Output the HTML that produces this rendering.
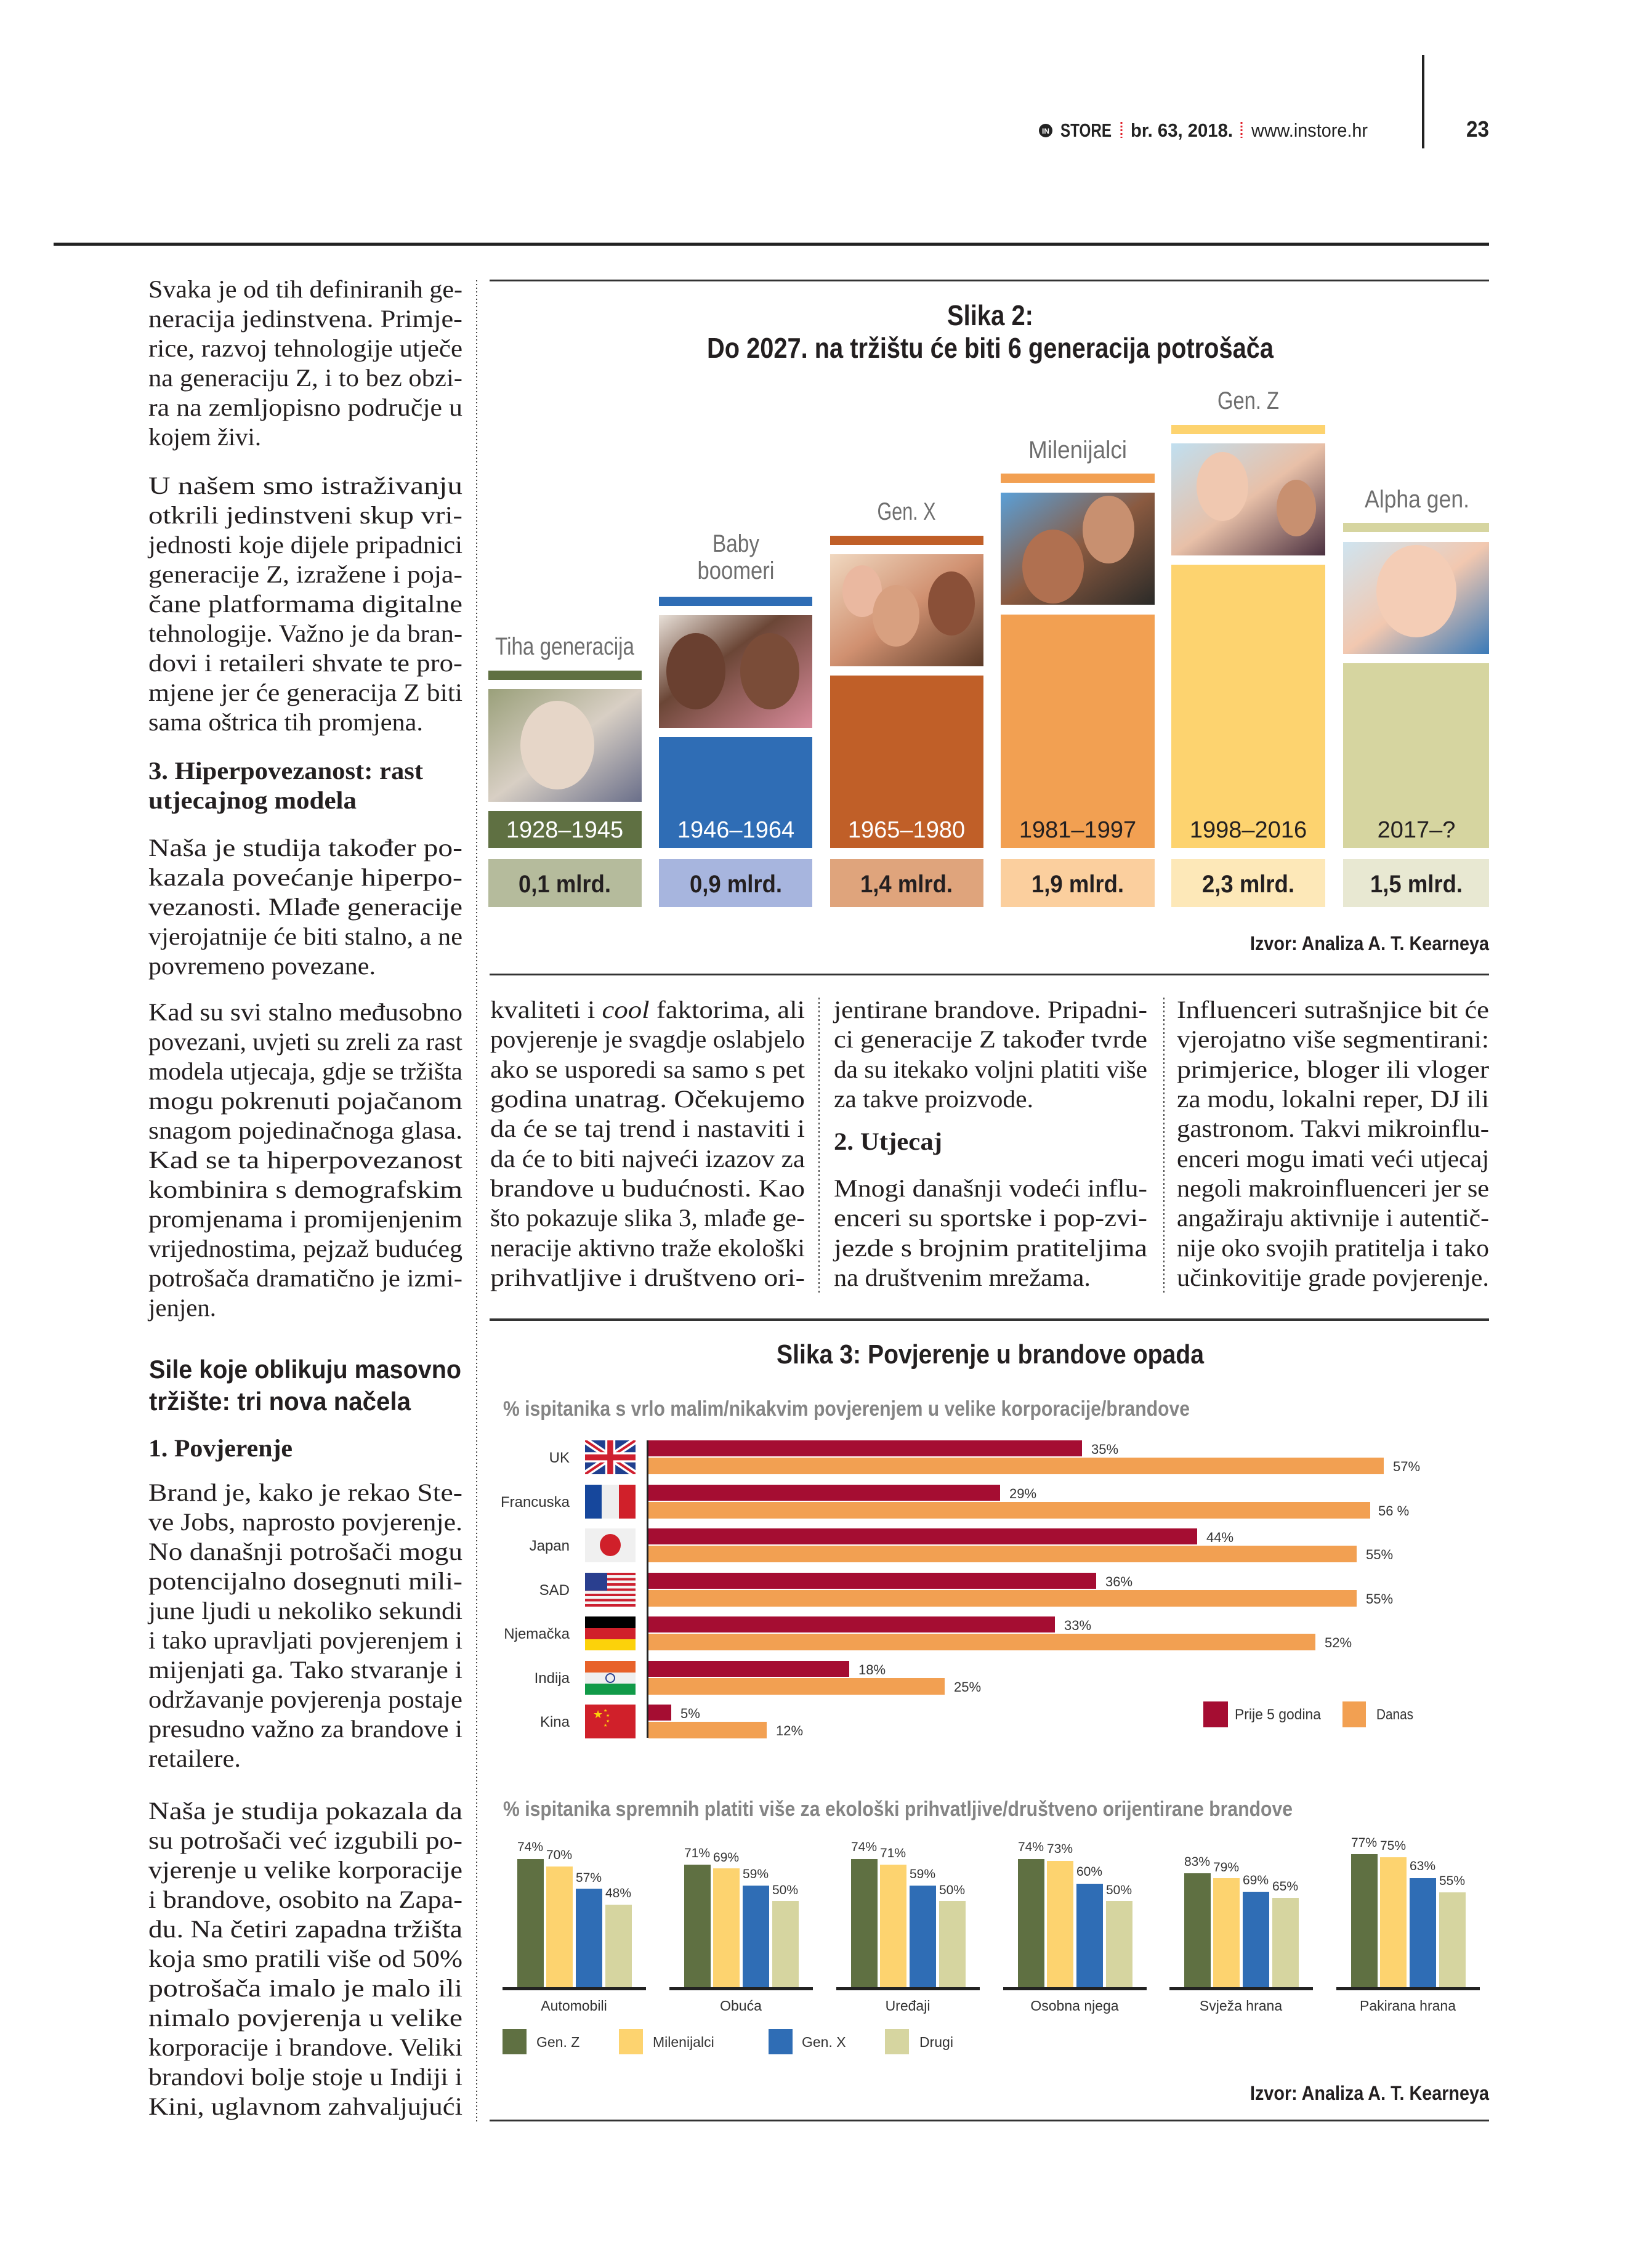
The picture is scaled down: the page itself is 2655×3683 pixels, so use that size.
<!DOCTYPE html>
<html><head><meta charset="utf-8"><style>
html,body{margin:0;padding:0;background:#fff}
svg{display:block}
.b{font-family:"Liberation Serif",serif;font-size:40px;fill:#231f20}
.s{font-family:"Liberation Sans",sans-serif}
</style></head><body>
<svg width="2655" height="3683" viewBox="0 0 2655 3683" xmlns="http://www.w3.org/2000/svg">
<defs>
<linearGradient id="p1" x1="0" y1="0" x2="1" y2="1"><stop offset="0" stop-color="#9aa07a"/><stop offset="0.5" stop-color="#d8cfc4"/><stop offset="1" stop-color="#6a6f8a"/></linearGradient>
<linearGradient id="p2" x1="0" y1="0" x2="1" y2="1"><stop offset="0" stop-color="#e8e0d8"/><stop offset="0.4" stop-color="#6b4636"/><stop offset="1" stop-color="#d88a9a"/></linearGradient>
<linearGradient id="p3" x1="0" y1="0" x2="1" y2="1"><stop offset="0" stop-color="#f0d8c0"/><stop offset="0.5" stop-color="#d09070"/><stop offset="1" stop-color="#5a3a28"/></linearGradient>
<linearGradient id="p4" x1="0" y1="0" x2="1" y2="1"><stop offset="0" stop-color="#5aa0d8"/><stop offset="0.5" stop-color="#8a5a40"/><stop offset="1" stop-color="#2a2a28"/></linearGradient>
<linearGradient id="p5" x1="0" y1="0" x2="1" y2="1"><stop offset="0" stop-color="#c0dff0"/><stop offset="0.5" stop-color="#e8c0a8"/><stop offset="1" stop-color="#4a3040"/></linearGradient>
<linearGradient id="p6" x1="0" y1="0" x2="1" y2="1"><stop offset="0" stop-color="#cfe4f0"/><stop offset="0.5" stop-color="#f2c8b0"/><stop offset="1" stop-color="#3a7ab8"/></linearGradient>
</defs>

<!-- header -->
<circle cx="1698" cy="212" r="11" fill="#222"/>
<text x="1698" y="217" font-family="Liberation Sans" font-size="12" font-weight="bold" fill="#fff" text-anchor="middle">IN</text>
<text x="1722" y="222" class="s" font-size="31" font-weight="bold" fill="#222" textLength="83" lengthAdjust="spacingAndGlyphs">STORE</text>
<line x1="1821" y1="198" x2="1821" y2="224" stroke="#e0202a" stroke-width="3" stroke-dasharray="3,3"/>
<text x="1836" y="222" class="s" font-size="31" font-weight="bold" fill="#222" textLength="166" lengthAdjust="spacingAndGlyphs">br. 63, 2018.</text>
<line x1="2016" y1="198" x2="2016" y2="224" stroke="#e0202a" stroke-width="3" stroke-dasharray="3,3"/>
<text x="2032" y="222" class="s" font-size="31" fill="#222" textLength="189" lengthAdjust="spacingAndGlyphs">www.instore.hr</text>
<rect x="2309" y="89" width="4" height="152" fill="#222"/>
<text x="2381" y="222" class="s" font-size="36" font-weight="bold" fill="#222" textLength="37" lengthAdjust="spacingAndGlyphs">23</text>
<rect x="87" y="394" width="2331" height="5" fill="#222"/>

<!-- left dotted column line -->
<line x1="774" y1="455" x2="774" y2="3445" stroke="#444" stroke-width="2" stroke-dasharray="2,4"/>

<!-- LEFT COLUMN TEXT -->
<g class="b">
<text x="241" y="483" textLength="510" lengthAdjust="spacingAndGlyphs">Svaka je od tih definiranih ge-</text>
<text x="241" y="531" textLength="510" lengthAdjust="spacingAndGlyphs">neracija jedinstvena. Primje-</text>
<text x="241" y="579" textLength="510" lengthAdjust="spacingAndGlyphs">rice, razvoj tehnologije utječe</text>
<text x="241" y="627" textLength="510" lengthAdjust="spacingAndGlyphs">na generaciju Z, i to bez obzi-</text>
<text x="241" y="675" textLength="510" lengthAdjust="spacingAndGlyphs">ra na zemljopisno područje u</text>
<text x="241" y="723" textLength="183" lengthAdjust="spacingAndGlyphs">kojem živi.</text>

<text x="241" y="802" textLength="510" lengthAdjust="spacingAndGlyphs">U našem smo istraživanju</text>
<text x="241" y="850" textLength="510" lengthAdjust="spacingAndGlyphs">otkrili jedinstveni skup vri-</text>
<text x="241" y="898" textLength="510" lengthAdjust="spacingAndGlyphs">jednosti koje dijele pripadnici</text>
<text x="241" y="946" textLength="510" lengthAdjust="spacingAndGlyphs">generacije Z, izražene i poja-</text>
<text x="241" y="994" textLength="510" lengthAdjust="spacingAndGlyphs">čane platformama digitalne</text>
<text x="241" y="1042" textLength="510" lengthAdjust="spacingAndGlyphs">tehnologije. Važno je da bran-</text>
<text x="241" y="1090" textLength="510" lengthAdjust="spacingAndGlyphs">dovi i retaileri shvate te pro-</text>
<text x="241" y="1138" textLength="510" lengthAdjust="spacingAndGlyphs">mjene jer će generacija Z biti</text>
<text x="241" y="1186" textLength="446" lengthAdjust="spacingAndGlyphs">sama oštrica tih promjena.</text>

<text x="241" y="1265" font-weight="bold" textLength="446" lengthAdjust="spacingAndGlyphs">3. Hiperpovezanost: rast</text>
<text x="241" y="1313" font-weight="bold" textLength="338" lengthAdjust="spacingAndGlyphs">utjecajnog modela</text>

<text x="241" y="1390" textLength="510" lengthAdjust="spacingAndGlyphs">Naša je studija također po-</text>
<text x="241" y="1438" textLength="510" lengthAdjust="spacingAndGlyphs">kazala povećanje hiperpo-</text>
<text x="241" y="1486" textLength="510" lengthAdjust="spacingAndGlyphs">vezanosti. Mlađe generacije</text>
<text x="241" y="1534" textLength="510" lengthAdjust="spacingAndGlyphs">vjerojatnije će biti stalno, a ne</text>
<text x="241" y="1582" textLength="369" lengthAdjust="spacingAndGlyphs">povremeno povezane.</text>

<text x="241" y="1657" textLength="510" lengthAdjust="spacingAndGlyphs">Kad su svi stalno međusobno</text>
<text x="241" y="1705" textLength="510" lengthAdjust="spacingAndGlyphs">povezani, uvjeti su zreli za rast</text>
<text x="241" y="1753" textLength="510" lengthAdjust="spacingAndGlyphs">modela utjecaja, gdje se tržišta</text>
<text x="241" y="1801" textLength="510" lengthAdjust="spacingAndGlyphs">mogu pokrenuti pojačanom</text>
<text x="241" y="1849" textLength="510" lengthAdjust="spacingAndGlyphs">snagom pojedinačnoga glasa.</text>
<text x="241" y="1897" textLength="510" lengthAdjust="spacingAndGlyphs">Kad se ta hiperpovezanost</text>
<text x="241" y="1945" textLength="510" lengthAdjust="spacingAndGlyphs">kombinira s demografskim</text>
<text x="241" y="1993" textLength="510" lengthAdjust="spacingAndGlyphs">promjenama i promijenjenim</text>
<text x="241" y="2041" textLength="510" lengthAdjust="spacingAndGlyphs">vrijednostima, pejzaž budućeg</text>
<text x="241" y="2089" textLength="510" lengthAdjust="spacingAndGlyphs">potrošača dramatično je izmi-</text>
<text x="241" y="2137" textLength="110" lengthAdjust="spacingAndGlyphs">jenjen.</text>

<text x="241" y="2365" font-weight="bold" textLength="234" lengthAdjust="spacingAndGlyphs">1. Povjerenje</text>

<text x="241" y="2437" textLength="510" lengthAdjust="spacingAndGlyphs">Brand je, kako je rekao Ste-</text>
<text x="241" y="2485" textLength="510" lengthAdjust="spacingAndGlyphs">ve Jobs, naprosto povjerenje.</text>
<text x="241" y="2533" textLength="510" lengthAdjust="spacingAndGlyphs">No današnji potrošači mogu</text>
<text x="241" y="2581" textLength="510" lengthAdjust="spacingAndGlyphs">potencijalno dosegnuti mili-</text>
<text x="241" y="2629" textLength="510" lengthAdjust="spacingAndGlyphs">june ljudi u nekoliko sekundi</text>
<text x="241" y="2677" textLength="510" lengthAdjust="spacingAndGlyphs">i tako upravljati povjerenjem i</text>
<text x="241" y="2725" textLength="510" lengthAdjust="spacingAndGlyphs">mijenjati ga. Tako stvaranje i</text>
<text x="241" y="2773" textLength="510" lengthAdjust="spacingAndGlyphs">održavanje povjerenja postaje</text>
<text x="241" y="2821" textLength="510" lengthAdjust="spacingAndGlyphs">presudno važno za brandove i</text>
<text x="241" y="2869" textLength="150" lengthAdjust="spacingAndGlyphs">retailere.</text>

<text x="241" y="2954" textLength="510" lengthAdjust="spacingAndGlyphs">Naša je studija pokazala da</text>
<text x="241" y="3002" textLength="510" lengthAdjust="spacingAndGlyphs">su potrošači već izgubili po-</text>
<text x="241" y="3050" textLength="510" lengthAdjust="spacingAndGlyphs">vjerenje u velike korporacije</text>
<text x="241" y="3098" textLength="510" lengthAdjust="spacingAndGlyphs">i brandove, osobito na Zapa-</text>
<text x="241" y="3146" textLength="510" lengthAdjust="spacingAndGlyphs">du. Na četiri zapadna tržišta</text>
<text x="241" y="3194" textLength="510" lengthAdjust="spacingAndGlyphs">koja smo pratili više od 50%</text>
<text x="241" y="3242" textLength="510" lengthAdjust="spacingAndGlyphs">potrošača imalo je malo ili</text>
<text x="241" y="3290" textLength="510" lengthAdjust="spacingAndGlyphs">nimalo povjerenja u velike</text>
<text x="241" y="3338" textLength="510" lengthAdjust="spacingAndGlyphs">korporacije i brandove. Veliki</text>
<text x="241" y="3386" textLength="510" lengthAdjust="spacingAndGlyphs">brandovi bolje stoje u Indiji i</text>
<text x="241" y="3434" textLength="510" lengthAdjust="spacingAndGlyphs">Kini, uglavnom zahvaljujući</text>
</g>
<g class="s" font-size="42" font-weight="bold" fill="#231f20">
<text x="242" y="2238" textLength="507" lengthAdjust="spacingAndGlyphs">Sile koje oblikuju masovno</text>
<text x="242" y="2290" textLength="425" lengthAdjust="spacingAndGlyphs">tržište: tri nova načela</text>
</g>

<!-- FIGURE 2 -->
<rect x="795" y="454" width="1623" height="3" fill="#333"/>
<g class="s" font-weight="bold" fill="#231f20" text-anchor="middle">
<text x="1608" y="528" font-size="46" textLength="140" lengthAdjust="spacingAndGlyphs">Slika 2:</text>
<text x="1608" y="581" font-size="46" textLength="920" lengthAdjust="spacingAndGlyphs">Do 2027. na tržištu će biti 6 generacija potrošača</text>
</g>

<!-- col 1 Tiha -->
<text x="917" y="1063" class="s" font-size="40" fill="#6e6e6e" text-anchor="middle" textLength="226" lengthAdjust="spacingAndGlyphs">Tiha generacija</text>
<rect x="793" y="1089" width="249" height="15" fill="#5f7042"/>
<rect x="793" y="1119" width="249" height="183" fill="url(#p1)"/>
<ellipse cx="905" cy="1210" rx="60" ry="72" fill="#e6d6c8"/>
<rect x="793" y="1317" width="249" height="60" fill="#5f7042"/>
<rect x="793" y="1395" width="249" height="78" fill="#b5bb9c"/>
<!-- col 2 Baby -->
<text x="1195" y="896" class="s" font-size="40" fill="#6e6e6e" text-anchor="middle" textLength="76" lengthAdjust="spacingAndGlyphs">Baby</text>
<text x="1195" y="940" class="s" font-size="40" fill="#6e6e6e" text-anchor="middle" textLength="125" lengthAdjust="spacingAndGlyphs">boomeri</text>
<rect x="1070" y="969" width="249" height="15" fill="#2f6db5"/>
<rect x="1070" y="999" width="249" height="183" fill="url(#p2)"/>
<ellipse cx="1130" cy="1090" rx="48" ry="62" fill="#6a4030"/>
<ellipse cx="1250" cy="1090" rx="48" ry="62" fill="#7a4c38"/>
<rect x="1070" y="1197" width="249" height="180" fill="#2f6db5"/>
<rect x="1070" y="1395" width="249" height="78" fill="#a7b5de"/>
<!-- col 3 Gen X -->
<text x="1472" y="844" class="s" font-size="40" fill="#6e6e6e" text-anchor="middle" textLength="95" lengthAdjust="spacingAndGlyphs">Gen. X</text>
<rect x="1348" y="870" width="249" height="15" fill="#c05f28"/>
<rect x="1348" y="900" width="249" height="182" fill="url(#p3)"/>
<ellipse cx="1400" cy="960" rx="32" ry="42" fill="#eab8a0"/>
<ellipse cx="1455" cy="1000" rx="38" ry="50" fill="#d8a080"/>
<ellipse cx="1545" cy="980" rx="38" ry="52" fill="#8a5038"/>
<rect x="1348" y="1097" width="249" height="280" fill="#c05f28"/>
<rect x="1348" y="1395" width="249" height="78" fill="#dfa47c"/>
<!-- col 4 Mil -->
<text x="1750" y="744" class="s" font-size="40" fill="#6e6e6e" text-anchor="middle" textLength="160" lengthAdjust="spacingAndGlyphs">Milenijalci</text>
<rect x="1625" y="769" width="250" height="15" fill="#f2a052"/>
<rect x="1625" y="800" width="250" height="182" fill="url(#p4)"/>
<ellipse cx="1710" cy="920" rx="50" ry="60" fill="#b07050"/>
<ellipse cx="1800" cy="860" rx="42" ry="55" fill="#c89070"/>
<rect x="1625" y="998" width="250" height="379" fill="#f2a052"/>
<rect x="1625" y="1395" width="250" height="78" fill="#fbcf9e"/>
<!-- col 5 Gen Z -->
<text x="2027" y="664" class="s" font-size="40" fill="#6e6e6e" text-anchor="middle" textLength="100" lengthAdjust="spacingAndGlyphs">Gen. Z</text>
<rect x="1902" y="690" width="250" height="15" fill="#fdd36f"/>
<rect x="1902" y="720" width="250" height="182" fill="url(#p5)"/>
<ellipse cx="1985" cy="790" rx="42" ry="56" fill="#f0c8b0"/>
<ellipse cx="2105" cy="825" rx="32" ry="46" fill="#c89070"/>
<rect x="1902" y="917" width="250" height="460" fill="#fdd36f"/>
<rect x="1902" y="1395" width="250" height="78" fill="#fde8b8"/>
<!-- col 6 Alpha -->
<text x="2301" y="824" class="s" font-size="40" fill="#6e6e6e" text-anchor="middle" textLength="170" lengthAdjust="spacingAndGlyphs">Alpha gen.</text>
<rect x="2181" y="849" width="237" height="15" fill="#d6d5a0"/>
<rect x="2181" y="880" width="237" height="182" fill="url(#p6)"/>
<ellipse cx="2300" cy="960" rx="65" ry="75" fill="#f4cdb6"/>
<rect x="2181" y="1077" width="237" height="300" fill="#d6d5a0"/>
<rect x="2181" y="1395" width="237" height="78" fill="#e8e8d2"/>

<g class="s" font-size="38" text-anchor="middle">
<text x="917" y="1360" fill="#fff">1928–1945</text>
<text x="1195" y="1360" fill="#fff">1946–1964</text>
<text x="1472" y="1360" fill="#fff">1965–1980</text>
<text x="1750" y="1360" fill="#231f20">1981–1997</text>
<text x="2027" y="1360" fill="#231f20">1998–2016</text>
<text x="2300" y="1360" fill="#231f20">2017–?</text>
</g>
<g class="s" font-size="40" font-weight="bold" text-anchor="middle" fill="#231f20">
<text x="917" y="1449" textLength="150" lengthAdjust="spacingAndGlyphs">0,1 mlrd.</text>
<text x="1195" y="1449" textLength="150" lengthAdjust="spacingAndGlyphs">0,9 mlrd.</text>
<text x="1472" y="1449" textLength="150" lengthAdjust="spacingAndGlyphs">1,4 mlrd.</text>
<text x="1750" y="1449" textLength="150" lengthAdjust="spacingAndGlyphs">1,9 mlrd.</text>
<text x="2027" y="1449" textLength="150" lengthAdjust="spacingAndGlyphs">2,3 mlrd.</text>
<text x="2300" y="1449" textLength="150" lengthAdjust="spacingAndGlyphs">1,5 mlrd.</text>
</g>
<text x="2418" y="1543" class="s" font-size="32" font-weight="bold" fill="#231f20" text-anchor="end" textLength="388" lengthAdjust="spacingAndGlyphs">Izvor: Analiza A. T. Kearneya</text>
<rect x="795" y="1581" width="1623" height="3" fill="#333"/>

<!-- middle text columns -->
<line x1="1330" y1="1620" x2="1330" y2="2100" stroke="#444" stroke-width="2" stroke-dasharray="3,4"/>
<line x1="1890" y1="1620" x2="1890" y2="2100" stroke="#444" stroke-width="2" stroke-dasharray="3,4"/>
<g class="b">
<text x="796" y="1653" textLength="511" lengthAdjust="spacingAndGlyphs">kvaliteti i <tspan font-style="italic">cool</tspan> faktorima, ali</text>
<text x="796" y="1701" textLength="511" lengthAdjust="spacingAndGlyphs">povjerenje je svagdje oslabjelo</text>
<text x="796" y="1750" textLength="511" lengthAdjust="spacingAndGlyphs">ako se usporedi sa samo s pet</text>
<text x="796" y="1798" textLength="511" lengthAdjust="spacingAndGlyphs">godina unatrag. Očekujemo</text>
<text x="796" y="1846" textLength="511" lengthAdjust="spacingAndGlyphs">da će se taj trend i nastaviti i</text>
<text x="796" y="1895" textLength="511" lengthAdjust="spacingAndGlyphs">da će to biti najveći izazov za</text>
<text x="796" y="1943" textLength="511" lengthAdjust="spacingAndGlyphs">brandove u budućnosti. Kao</text>
<text x="796" y="1991" textLength="511" lengthAdjust="spacingAndGlyphs">što pokazuje slika 3, mlađe ge-</text>
<text x="796" y="2040" textLength="511" lengthAdjust="spacingAndGlyphs">neracije aktivno traže ekološki</text>
<text x="796" y="2088" textLength="511" lengthAdjust="spacingAndGlyphs">prihvatljive i društveno ori-</text>

<text x="1354" y="1653" textLength="509" lengthAdjust="spacingAndGlyphs">jentirane brandove. Pripadni-</text>
<text x="1354" y="1701" textLength="509" lengthAdjust="spacingAndGlyphs">ci generacije Z također tvrde</text>
<text x="1354" y="1750" textLength="509" lengthAdjust="spacingAndGlyphs">da su itekako voljni platiti više</text>
<text x="1354" y="1798" textLength="324" lengthAdjust="spacingAndGlyphs">za takve proizvode.</text>
<text x="1354" y="1867" font-weight="bold" textLength="176" lengthAdjust="spacingAndGlyphs">2. Utjecaj</text>
<text x="1354" y="1943" textLength="509" lengthAdjust="spacingAndGlyphs">Mnogi današnji vodeći influ-</text>
<text x="1354" y="1991" textLength="509" lengthAdjust="spacingAndGlyphs">enceri su sportske i pop-zvi-</text>
<text x="1354" y="2040" textLength="509" lengthAdjust="spacingAndGlyphs">jezde s brojnim pratiteljima</text>
<text x="1354" y="2088" textLength="417" lengthAdjust="spacingAndGlyphs">na društvenim mrežama.</text>

<text x="1911" y="1653" textLength="507" lengthAdjust="spacingAndGlyphs">Influenceri sutrašnjice bit će</text>
<text x="1911" y="1701" textLength="507" lengthAdjust="spacingAndGlyphs">vjerojatno više segmentirani:</text>
<text x="1911" y="1750" textLength="507" lengthAdjust="spacingAndGlyphs">primjerice, bloger ili vloger</text>
<text x="1911" y="1798" textLength="507" lengthAdjust="spacingAndGlyphs">za modu, lokalni reper, DJ ili</text>
<text x="1911" y="1846" textLength="507" lengthAdjust="spacingAndGlyphs">gastronom. Takvi mikroinflu-</text>
<text x="1911" y="1895" textLength="507" lengthAdjust="spacingAndGlyphs">enceri mogu imati veći utjecaj</text>
<text x="1911" y="1943" textLength="507" lengthAdjust="spacingAndGlyphs">negoli makroinfluenceri jer se</text>
<text x="1911" y="1991" textLength="507" lengthAdjust="spacingAndGlyphs">angažiraju aktivnije i autentič-</text>
<text x="1911" y="2040" textLength="507" lengthAdjust="spacingAndGlyphs">nije oko svojih pratitelja i tako</text>
<text x="1911" y="2088" textLength="507" lengthAdjust="spacingAndGlyphs">učinkovitije grade povjerenje.</text>
</g>

<!-- FIGURE 3 -->
<rect x="795" y="2141" width="1623" height="4" fill="#333"/>
<text x="1608" y="2214" class="s" font-size="44" font-weight="bold" fill="#231f20" text-anchor="middle" textLength="694" lengthAdjust="spacingAndGlyphs">Slika 3: Povjerenje u brandove opada</text>
<text x="817" y="2299" class="s" font-size="34" font-weight="bold" fill="#858585" textLength="1115" lengthAdjust="spacingAndGlyphs">% ispitanika s vrlo malim/nikakvim povjerenjem u velike korporacije/brandove</text>

<rect x="1050" y="2339" width="3" height="483" fill="#222"/>
<g class="s" font-size="24" fill="#333" text-anchor="end">
<text x="925" y="2375">UK</text>
<text x="925" y="2447">Francuska</text>
<text x="925" y="2518">Japan</text>
<text x="925" y="2590">SAD</text>
<text x="925" y="2661">Njemačka</text>
<text x="925" y="2733">Indija</text>
<text x="925" y="2804">Kina</text>
</g>
<!-- flags -->
<g>
<!-- UK -->
<svg x="950" y="2339" width="82" height="55" viewBox="0 0 60 40" preserveAspectRatio="none">
<rect width="60" height="40" fill="#1f3f8f"/>
<path d="M0,0 L60,40 M60,0 L0,40" stroke="#fff" stroke-width="8"/>
<path d="M0,0 L60,40 M60,0 L0,40" stroke="#cf1f2f" stroke-width="3"/>
<path d="M30,0 V40 M0,20 H60" stroke="#fff" stroke-width="12"/>
<path d="M30,0 V40 M0,20 H60" stroke="#cf1f2f" stroke-width="7"/>
</svg>
<!-- France -->
<rect x="950" y="2411" width="27" height="55" fill="#16479c"/>
<rect x="977" y="2411" width="28" height="55" fill="#eeeeee"/>
<rect x="1005" y="2411" width="27" height="55" fill="#d0202a"/>
<!-- Japan -->
<rect x="950" y="2482" width="82" height="55" fill="#f0f0f0"/>
<ellipse cx="991" cy="2509" rx="17" ry="18" fill="#d0202a"/>
<!-- USA -->
<rect x="950" y="2554" width="82" height="55" fill="#f4f4f4"/>
<g fill="#cc2030">
<rect x="950" y="2554" width="82" height="4"/><rect x="950" y="2562.5" width="82" height="4"/><rect x="950" y="2571" width="82" height="4"/><rect x="950" y="2579.5" width="82" height="4"/><rect x="950" y="2588" width="82" height="4"/><rect x="950" y="2596.5" width="82" height="4"/><rect x="950" y="2605" width="82" height="4"/>
</g>
<rect x="950" y="2554" width="36" height="29" fill="#2a3f8f"/>
<!-- Germany -->
<rect x="950" y="2625" width="82" height="19" fill="#000"/>
<rect x="950" y="2644" width="82" height="18" fill="#d0202a"/>
<rect x="950" y="2662" width="82" height="18" fill="#fcd20a"/>
<!-- India -->
<rect x="950" y="2697" width="82" height="19" fill="#e8622a"/>
<rect x="950" y="2716" width="82" height="18" fill="#efefef"/>
<rect x="950" y="2734" width="82" height="18" fill="#119a48"/>
<circle cx="991" cy="2725" r="7" fill="none" stroke="#2a3f8f" stroke-width="2"/>
<!-- China -->
<rect x="950" y="2768" width="82" height="55" fill="#d0202a"/>
<text x="963" y="2790" font-size="18" fill="#fcd20a" font-family="DejaVu Sans">★</text>
<text x="980" y="2780" font-size="7" fill="#fcd20a" font-family="DejaVu Sans">★</text>
<text x="984" y="2788" font-size="7" fill="#fcd20a" font-family="DejaVu Sans">★</text>
<text x="984" y="2797" font-size="7" fill="#fcd20a" font-family="DejaVu Sans">★</text>
<text x="980" y="2804" font-size="7" fill="#fcd20a" font-family="DejaVu Sans">★</text>
</g>
<!-- bars -->
<g fill="#a50d32">
<rect x="1053" y="2339" width="704" height="26"/>
<rect x="1053" y="2411" width="571" height="26"/>
<rect x="1053" y="2482" width="891" height="26"/>
<rect x="1053" y="2554" width="727" height="26"/>
<rect x="1053" y="2625" width="660" height="26"/>
<rect x="1053" y="2697" width="326" height="26"/>
<rect x="1053" y="2768" width="37" height="26"/>
</g>
<g fill="#f2a052">
<rect x="1053" y="2367" width="1194" height="27"/>
<rect x="1053" y="2439" width="1172" height="27"/>
<rect x="1053" y="2510" width="1150" height="27"/>
<rect x="1053" y="2582" width="1150" height="27"/>
<rect x="1053" y="2653" width="1083" height="27"/>
<rect x="1053" y="2725" width="481" height="27"/>
<rect x="1053" y="2796" width="192" height="27"/>
</g>
<g class="s" font-size="22" fill="#333">
<text x="1772" y="2361">35%</text><text x="2262" y="2389">57%</text>
<text x="1639" y="2433">29%</text><text x="2238" y="2461">56 %</text>
<text x="1959" y="2504">44%</text><text x="2218" y="2532">55%</text>
<text x="1795" y="2576">36%</text><text x="2218" y="2604">55%</text>
<text x="1728" y="2647">33%</text><text x="2151" y="2675">52%</text>
<text x="1394" y="2719">18%</text><text x="1549" y="2747">25%</text>
<text x="1105" y="2790">5%</text><text x="1260" y="2818">12%</text>
</g>
<rect x="1954" y="2763" width="40" height="42" fill="#a50d32"/>
<text x="2005" y="2792" class="s" font-size="24" fill="#333" textLength="140" lengthAdjust="spacingAndGlyphs">Prije 5 godina</text>
<rect x="2180" y="2763" width="38" height="42" fill="#f2a052"/>
<text x="2235" y="2792" class="s" font-size="24" fill="#333" textLength="60" lengthAdjust="spacingAndGlyphs">Danas</text>

<text x="817" y="2949" class="s" font-size="34" font-weight="bold" fill="#858585" textLength="1282" lengthAdjust="spacingAndGlyphs">% ispitanika spremnih platiti više za ekološki prihvatljive/društveno orijentirane brandove</text>

<!-- grouped bars -->
<g id="grp">
<!-- group 1 Automobili x0=816 -->
<rect x="840" y="3019" width="43" height="208" fill="#5f7042"/>
<rect x="887" y="3031" width="43" height="196" fill="#fdd36f"/>
<rect x="935" y="3067" width="43" height="160" fill="#2f6db5"/>
<rect x="983" y="3093" width="43" height="134" fill="#d6d5a0"/>
<rect x="816" y="3227" width="233" height="5" fill="#222"/>
<!-- group 2 Obuća x0=1087 -->
<rect x="1111" y="3028" width="43" height="199" fill="#5f7042"/>
<rect x="1158" y="3034" width="43" height="193" fill="#fdd36f"/>
<rect x="1206" y="3062" width="43" height="165" fill="#2f6db5"/>
<rect x="1254" y="3087" width="43" height="140" fill="#d6d5a0"/>
<rect x="1087" y="3227" width="233" height="5" fill="#222"/>
<!-- group 3 Uređaji x0=1358 -->
<rect x="1382" y="3019" width="43" height="208" fill="#5f7042"/>
<rect x="1429" y="3028" width="43" height="199" fill="#fdd36f"/>
<rect x="1477" y="3062" width="43" height="165" fill="#2f6db5"/>
<rect x="1525" y="3087" width="43" height="140" fill="#d6d5a0"/>
<rect x="1358" y="3227" width="233" height="5" fill="#222"/>
<!-- group 4 Osobna x0=1629 -->
<rect x="1653" y="3019" width="43" height="208" fill="#5f7042"/>
<rect x="1700" y="3022" width="43" height="205" fill="#fdd36f"/>
<rect x="1748" y="3059" width="43" height="168" fill="#2f6db5"/>
<rect x="1796" y="3087" width="43" height="140" fill="#d6d5a0"/>
<rect x="1629" y="3227" width="233" height="5" fill="#222"/>
<!-- group 5 Svježa x0=1899 -->
<rect x="1923" y="3042" width="43" height="185" fill="#5f7042"/>
<rect x="1970" y="3050" width="43" height="177" fill="#fdd36f"/>
<rect x="2018" y="3072" width="43" height="155" fill="#2f6db5"/>
<rect x="2066" y="3082" width="43" height="145" fill="#d6d5a0"/>
<rect x="1899" y="3227" width="233" height="5" fill="#222"/>
<!-- group 6 Pakirana x0=2170 -->
<rect x="2194" y="3011" width="43" height="216" fill="#5f7042"/>
<rect x="2241" y="3016" width="43" height="211" fill="#fdd36f"/>
<rect x="2289" y="3050" width="43" height="177" fill="#2f6db5"/>
<rect x="2337" y="3073" width="43" height="154" fill="#d6d5a0"/>
<rect x="2170" y="3227" width="233" height="5" fill="#222"/>
</g>
<g class="s" font-size="21" fill="#333">
<text x="840" y="3006">74%</text><text x="887" y="3019">70%</text><text x="935" y="3056">57%</text><text x="983" y="3081">48%</text>
<text x="1111" y="3016">71%</text><text x="1158" y="3023">69%</text><text x="1206" y="3050">59%</text><text x="1254" y="3076">50%</text>
<text x="1382" y="3006">74%</text><text x="1429" y="3016">71%</text><text x="1477" y="3050">59%</text><text x="1525" y="3076">50%</text>
<text x="1653" y="3006">74%</text><text x="1700" y="3009">73%</text><text x="1748" y="3046">60%</text><text x="1796" y="3076">50%</text>
<text x="1923" y="3030">83%</text><text x="1970" y="3039">79%</text><text x="2018" y="3060">69%</text><text x="2066" y="3070">65%</text>
<text x="2194" y="2999">77%</text><text x="2241" y="3004">75%</text><text x="2289" y="3037">63%</text><text x="2337" y="3061">55%</text>
</g>
<g class="s" font-size="23" fill="#333" text-anchor="middle">
<text x="932" y="3265">Automobili</text>
<text x="1203" y="3265">Obuća</text>
<text x="1474" y="3265">Uređaji</text>
<text x="1745" y="3265">Osobna njega</text>
<text x="2015" y="3265">Svježa hrana</text>
<text x="2286" y="3265">Pakirana hrana</text>
</g>
<rect x="816" y="3295" width="39" height="41" fill="#5f7042"/>
<rect x="1005" y="3295" width="39" height="41" fill="#fdd36f"/>
<rect x="1248" y="3295" width="39" height="41" fill="#2f6db5"/>
<rect x="1437" y="3295" width="39" height="41" fill="#d6d5a0"/>
<g class="s" font-size="23" fill="#333">
<text x="871" y="3324">Gen. Z</text>
<text x="1060" y="3324">Milenijalci</text>
<text x="1302" y="3324">Gen. X</text>
<text x="1493" y="3324">Drugi</text>
</g>
<text x="2418" y="3410" class="s" font-size="32" font-weight="bold" fill="#231f20" text-anchor="end" textLength="388" lengthAdjust="spacingAndGlyphs">Izvor: Analiza A. T. Kearneya</text>
<rect x="795" y="3442" width="1623" height="3" fill="#333"/>
</svg>
</body></html>
